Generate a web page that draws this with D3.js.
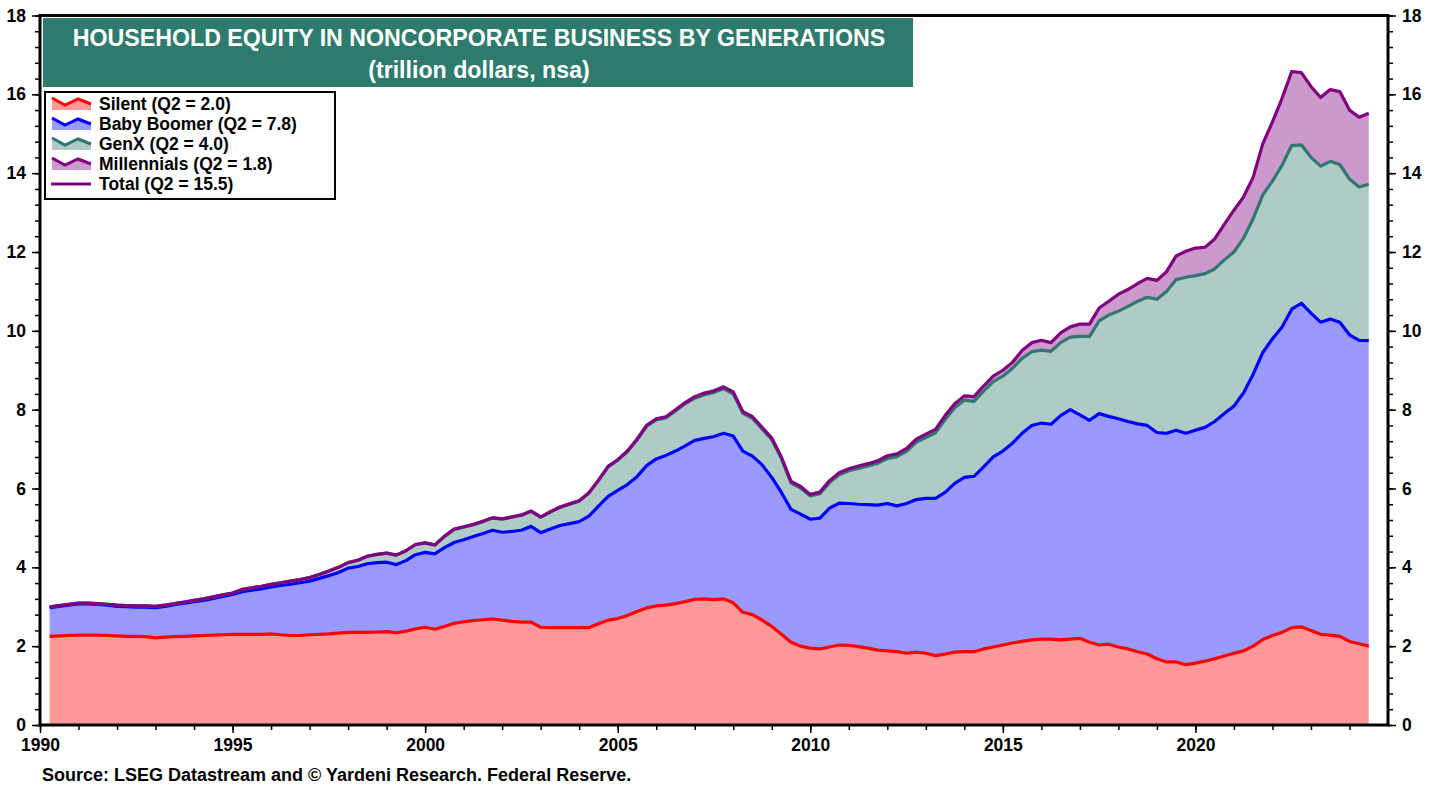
<!DOCTYPE html>
<html lang="en">
<head>
<meta charset="UTF-8">
<title>Household Equity in Noncorporate Business by Generations</title>
<script src="https://cdnjs.cloudflare.com/ajax/libs/d3/7.8.5/d3.min.js"></script>
<style>
    body { margin: 0; padding: 0; background: #fff; }
    svg { display: block; font-family: "Liberation Sans", Arial, sans-serif; font-weight: bold; }
</style>
</head>
<body>
<div id="chart"></div>
<script>
    // quarterly, 1990 Q1 .. 2024 Q2, trillion dollars
    const firstQuarter = 1990.25;

    const silent = [
        2.25, 2.26, 2.27, 2.28, 2.28, 2.28, 2.27, 2.26, 2.25, 2.25, 2.24, 2.21, 2.23, 2.24, 2.25, 2.26, 2.27, 2.28, 2.29, 2.30,
        2.30, 2.30, 2.30, 2.31, 2.29, 2.27, 2.27, 2.29, 2.30, 2.31, 2.33, 2.35, 2.35, 2.35, 2.36, 2.37, 2.34, 2.38, 2.44, 2.48,
        2.43, 2.50, 2.58, 2.62, 2.65, 2.67, 2.69, 2.66, 2.63, 2.61, 2.61, 2.48, 2.47, 2.47, 2.47, 2.47, 2.47, 2.57, 2.66, 2.70,
        2.78, 2.88, 2.97, 3.02, 3.04, 3.08, 3.13, 3.19, 3.20, 3.18, 3.20, 3.10, 2.86, 2.80, 2.66, 2.50, 2.30, 2.10, 2.00, 1.95,
        1.93, 1.98, 2.03, 2.02, 1.99, 1.95, 1.90, 1.88, 1.86, 1.82, 1.85, 1.82, 1.76, 1.80, 1.85, 1.86, 1.86, 1.93, 1.98, 2.03,
        2.08, 2.12, 2.16, 2.18, 2.18, 2.16, 2.18, 2.20, 2.10, 2.03, 2.05, 1.98, 1.93, 1.86, 1.80, 1.68, 1.60, 1.60, 1.53, 1.57,
        1.62, 1.68, 1.75, 1.82, 1.88, 2.00, 2.17, 2.27, 2.35, 2.47, 2.49, 2.40, 2.30, 2.28, 2.25, 2.12, 2.06, 2.00
    ];
    const boomer = [
        0.73, 0.75, 0.77, 0.79, 0.79, 0.78, 0.77, 0.75, 0.75, 0.74, 0.75, 0.77, 0.78, 0.81, 0.84, 0.87, 0.89, 0.93, 0.97, 1.01,
        1.08, 1.12, 1.15, 1.19, 1.25, 1.30, 1.34, 1.36, 1.42, 1.48, 1.54, 1.63, 1.67, 1.74, 1.76, 1.76, 1.73, 1.79, 1.88, 1.90,
        1.91, 2.00, 2.05, 2.08, 2.13, 2.19, 2.25, 2.23, 2.28, 2.33, 2.43, 2.40, 2.50, 2.59, 2.64, 2.69, 2.83, 2.98, 3.14, 3.25,
        3.32, 3.42, 3.61, 3.73, 3.80, 3.87, 3.95, 4.03, 4.07, 4.14, 4.20, 4.23, 4.09, 4.02, 3.94, 3.78, 3.60, 3.37, 3.35, 3.27,
        3.32, 3.52, 3.60, 3.60, 3.61, 3.64, 3.68, 3.74, 3.70, 3.80, 3.87, 3.93, 3.99, 4.10, 4.28, 4.42, 4.45, 4.62, 4.82, 4.92,
        5.07, 5.28, 5.44, 5.48, 5.45, 5.69, 5.82, 5.67, 5.63, 5.87, 5.78, 5.79, 5.77, 5.78, 5.80, 5.74, 5.80, 5.88, 5.87, 5.91,
        5.93, 6.02, 6.15, 6.27, 6.55, 6.90, 7.28, 7.53, 7.75, 8.08, 8.21, 8.05, 7.92, 8.02, 7.97, 7.78, 7.70, 7.75
    ];
    const genx = [
        0.02, 0.02, 0.02, 0.02, 0.02, 0.02, 0.02, 0.03, 0.03, 0.03, 0.03, 0.03, 0.03, 0.03, 0.03, 0.03, 0.04, 0.04, 0.04, 0.04,
        0.06, 0.06, 0.07, 0.07, 0.07, 0.08, 0.08, 0.09, 0.10, 0.12, 0.13, 0.14, 0.16, 0.19, 0.21, 0.23, 0.24, 0.25, 0.26, 0.24,
        0.22, 0.28, 0.33, 0.32, 0.30, 0.30, 0.31, 0.33, 0.36, 0.38, 0.38, 0.39, 0.43, 0.46, 0.49, 0.52, 0.58, 0.65, 0.75, 0.77,
        0.83, 0.93, 1.00, 0.99, 0.95, 1.02, 1.07, 1.07, 1.11, 1.12, 1.13, 1.07, 0.96, 0.96, 0.91, 0.96, 0.86, 0.67, 0.66, 0.59,
        0.62, 0.65, 0.72, 0.83, 0.91, 0.98, 1.06, 1.14, 1.25, 1.32, 1.45, 1.54, 1.66, 1.85, 1.92, 1.96, 1.90, 1.92, 1.91, 1.90,
        1.90, 1.90, 1.87, 1.85, 1.85, 1.85, 1.84, 1.99, 2.13, 2.35, 2.57, 2.73, 2.92, 3.11, 3.25, 3.38, 3.60, 3.82, 3.96, 3.92,
        3.90, 3.87, 3.90, 3.91, 3.92, 3.95, 4.00, 4.00, 4.10, 4.15, 4.02, 3.95, 3.96, 4.00, 4.00, 3.95, 3.89, 3.97
    ];
    const millennials = [
        0, 0, 0, 0, 0, 0, 0, 0, 0, 0, 0, 0, 0, 0, 0, 0, 0, 0, 0, 0,
        0, 0, 0, 0, 0, 0, 0, 0, 0, 0, 0, 0, 0, 0, 0, 0, 0, 0, 0, 0,
        0.01, 0.01, 0.01, 0.01, 0.01, 0.01, 0.01, 0.01, 0.01, 0.01, 0.01, 0.01, 0.01, 0.01, 0.01, 0.01, 0.01, 0.01, 0.01, 0.01,
        0.02, 0.02, 0.02, 0.03, 0.03, 0.03, 0.03, 0.04, 0.04, 0.04, 0.05, 0.05, 0.04, 0.04, 0.04, 0.04, 0.04, 0.04, 0.04, 0.04,
        0.04, 0.05, 0.05, 0.05, 0.06, 0.06, 0.06, 0.07, 0.07, 0.08, 0.08, 0.09, 0.09, 0.10, 0.10, 0.11, 0.12, 0.13, 0.14, 0.15,
        0.15, 0.20, 0.23, 0.25, 0.22, 0.25, 0.26, 0.31, 0.31, 0.33, 0.35, 0.43, 0.43, 0.45, 0.48, 0.48, 0.50, 0.60, 0.66, 0.70,
        0.67, 0.76, 0.90, 1.06, 1.05, 1.05, 1.30, 1.50, 1.70, 1.88, 1.83, 1.80, 1.74, 1.82, 1.85, 1.75, 1.77, 1.80
    ];

    const seriesKeys = ["silent", "boomer", "genx", "millennials"];
    const fills = { silent: "#ff9999", boomer: "#9999ff", genx: "#aecbc6", millennials: "#cc99cc" };
    const strokes = { silent: "#ff0000", boomer: "#0000ff", genx: "#2f7770", millennials: "#800080" };
    const legendLabels = [
        ["silent", "Silent (Q2 = 2.0)"],
        ["boomer", "Baby Boomer (Q2 = 7.8)"],
        ["genx", "GenX (Q2 = 4.0)"],
        ["millennials", "Millennials (Q2 = 1.8)"],
        ["total", "Total (Q2 = 15.5)"]
    ];
    const yTicks = [0, 2, 4, 6, 8, 10, 12, 14, 16, 18];
    const xLabelYears = [1990, 1995, 2000, 2005, 2010, 2015, 2020];

    const rows = silent.map((v, i) => ({
        date: firstQuarter + i * 0.25,
        silent: v, boomer: boomer[i], genx: genx[i], millennials: millennials[i]
    }));

    const width = 1439, height = 789;
    const plotLeft = 40, plotRight = 1388, plotTop = 15.5, plotBottom = 725;

    const svg = d3.select("#chart").append("svg")
        .attr("width", width)
        .attr("height", height);

    const x = d3.scaleLinear().domain([1990, 2025]).range([plotLeft, plotRight]);
    const y = d3.scaleLinear().domain([0, 18]).range([plotBottom, plotTop]);

    const stacked = d3.stack().keys(seriesKeys)(rows);

    const area = d3.area()
        .x(d => x(d.data.date))
        .y0(d => y(d[0]))
        .y1(d => y(d[1]));

    const line = d3.line()
        .x(d => x(d.data.date))
        .y(d => y(d[1]));

    svg.append("g").selectAll("path")
        .data(stacked)
        .enter().append("path")
        .attr("d", area)
        .attr("fill", d => fills[d.key]);

    svg.append("g").selectAll("path")
        .data(stacked)
        .enter().append("path")
        .attr("d", line)
        .attr("fill", "none")
        .attr("stroke", d => strokes[d.key])
        .attr("stroke-width", 3.2)
        .attr("stroke-linejoin", "round");

    // axes
    const minorY = d3.range(0, 18.01, 0.4);
    svg.append("g").attr("transform", `translate(${plotLeft},0)`)
        .call(d3.axisLeft(y).tickValues(minorY).tickSize(5).tickFormat(""));
    svg.append("g").attr("transform", `translate(${plotRight},0)`)
        .call(d3.axisRight(y).tickValues(minorY).tickSize(5).tickFormat(""));
    svg.append("g").attr("class", "labelled").attr("transform", `translate(${plotLeft},0)`)
        .call(d3.axisLeft(y).tickValues(yTicks).tickSize(8).tickPadding(6));
    svg.append("g").attr("class", "labelled").attr("transform", `translate(${plotRight},0)`)
        .call(d3.axisRight(y).tickValues(yTicks).tickSize(8).tickPadding(6));

    svg.append("g").attr("transform", `translate(0,${plotBottom})`)
        .call(d3.axisBottom(x).tickValues(d3.range(1990, 2025)).tickSize(5).tickFormat(""));
    svg.append("g").attr("class", "labelled").attr("transform", `translate(0,${plotBottom})`)
        .call(d3.axisBottom(x).tickValues(xLabelYears).tickSize(8).tickPadding(6).tickFormat(d3.format("d")));

    svg.selectAll(".domain").remove();
    svg.selectAll(".tick line").attr("stroke", "#000").attr("stroke-width", 1.5);
    svg.selectAll(".labelled text")
        .attr("font-family", "'Liberation Sans', Arial, sans-serif")
        .attr("font-weight", "bold")
        .attr("font-size", 17.5)
        .attr("fill", "#000");

    // frame
    svg.append("rect")
        .attr("x", plotLeft).attr("y", plotTop)
        .attr("width", plotRight - plotLeft).attr("height", plotBottom - plotTop)
        .attr("fill", "none")
        .attr("stroke", "#000")
        .attr("stroke-width", 3);

    // title box
    svg.append("rect")
        .attr("x", 43).attr("y", 18)
        .attr("width", 870).attr("height", 69)
        .attr("fill", "#2e7b6d");
    svg.append("text")
        .attr("x", 479).attr("y", 46)
        .attr("text-anchor", "middle")
        .attr("fill", "#fff")
        .attr("font-size", 23.2)
        .text("HOUSEHOLD EQUITY IN NONCORPORATE BUSINESS BY GENERATIONS");
    svg.append("text")
        .attr("x", 479).attr("y", 78)
        .attr("text-anchor", "middle")
        .attr("fill", "#fff")
        .attr("font-size", 23.2)
        .text("(trillion dollars, nsa)");

    // legend
    const legend = svg.append("g");
    legend.append("rect")
        .attr("x", 45).attr("y", 92)
        .attr("width", 290).attr("height", 107)
        .attr("fill", "#fff")
        .attr("stroke", "#000")
        .attr("stroke-width", 2);

    legendLabels.forEach(([key, label], i) => {
        const cy = 104 + i * 20;
        const g = legend.append("g").attr("transform", `translate(0,${cy})`);
        if (key === "total") {
            g.append("line")
                .attr("x1", 51).attr("x2", 91)
                .attr("y1", 0).attr("y2", 0)
                .attr("stroke", strokes.millennials)
                .attr("stroke-width", 3);
        } else {
            const pts = [[52, -6], [65, 1], [78, -5], [91, 0]];
            g.append("path")
                .attr("d", d3.line()(pts) + "L91,6L52,6Z")
                .attr("fill", fills[key]);
            g.append("path")
                .attr("d", d3.line()(pts))
                .attr("fill", "none")
                .attr("stroke", strokes[key])
                .attr("stroke-width", 3);
        }
        g.append("text")
            .attr("x", 99).attr("y", 6)
            .attr("font-size", 17.5)
            .attr("fill", "#000")
            .text(label);
    });

    svg.append("text")
        .attr("x", 42).attr("y", 781)
        .attr("font-size", 18)
        .attr("fill", "#000")
        .text("Source: LSEG Datastream and \u00a9 Yardeni Research. Federal Reserve.");
</script>
</body>
</html>
